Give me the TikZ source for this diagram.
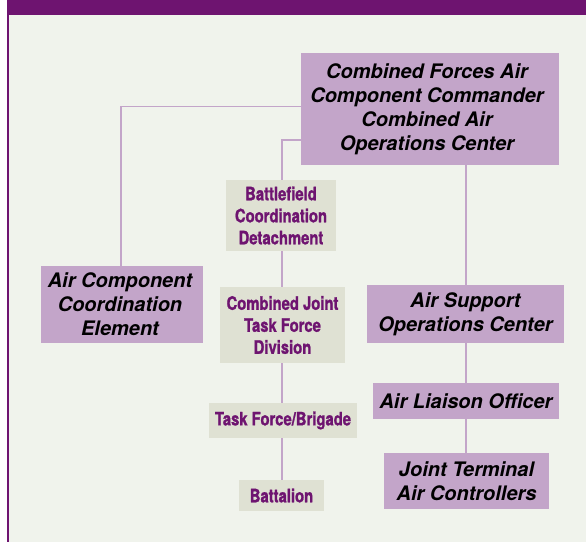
\documentclass[tikz,border=0pt]{standalone}
\usepackage{fontspec}
\setmainfont{TeX Gyre Heros}
\newfontfamily\condfont[FakeStretch=0.8, BoldFeatures={FakeBold=1.2}]{TeX Gyre Heros}
\definecolor{bgc}{HTML}{F0F3EC}
\definecolor{bandc}{HTML}{6E1470}
\definecolor{boxc}{HTML}{C3A5C9}
\definecolor{beigec}{HTML}{DFE1D3}
\definecolor{txtp}{HTML}{6E1470}
\tikzset{
  airbox/.style={fill=boxc, inner sep=0pt, align=center,
    font=\fontsize{20bp}{24bp}\selectfont\bfseries\itshape, text=black},
  airtext/.style={font=\fontsize{20bp}{24bp}\selectfont\bfseries\itshape, align=center, inner sep=0pt},
  armybox/.style={fill=beigec, inner sep=0pt, align=center,
    font=\condfont\fontsize{18.5bp}{22bp}\selectfont\bfseries, text=txtp},
  link/.style={draw=boxc, line width=1.6bp}
}
\begin{document}
\begin{tikzpicture}[x=1bp,y=-1bp]
\useasboundingbox (0,0) rectangle (586,542);
\fill[white] (0,0) rectangle (586,542);
\fill[bgc] (6.7,0) rectangle (586,542);
\fill[bandc] (6.7,0) rectangle (586,15.5);
\fill[bandc] (6.7,0) rectangle (8.7,542);

% air boxes
\node[airbox, minimum width=258bp, minimum height=112bp] (cfacc) at (430,109) {};
\node[airtext] (cfacct) at (427,109)
  {Combined Forces Air\\Component Commander\\Combined Air\\Operations Center};
\node[airbox, minimum width=162bp, minimum height=77bp] (acce) at (122,304.5) {};
\node[airtext] (accet) at (120,304.5)
  {Air Component\\Coordination\\Element};
\node[airbox, minimum width=197bp, minimum height=58bp] (asoc) at (465.5,314) {Air Support\\Operations Center};
\node[airbox, minimum width=186bp, minimum height=36bp] (alo) at (466,401) {Air Liaison Officer};
\node[airbox, minimum width=165bp, minimum height=56bp] (jtac) at (466.5,481) {Joint Terminal\\Air Controllers};

% army boxes
\node[armybox, minimum width=110bp, minimum height=71bp] (bcd) at (281,215.5) {Battlefield\\Coordination\\Detachment};
\node[armybox, minimum width=125bp, minimum height=76bp] (cjtfd) at (282.5,325) {Combined Joint\\Task Force\\Division};
\node[armybox, minimum width=148bp, minimum height=35bp] (tfb) at (283,420.5) {Task Force/Brigade};
\node[armybox, minimum width=85bp, minimum height=31bp] (bn) at (281.5,495.5) {Battalion};

% connectors
\draw[link] (cfacc.west |- 0,106.7) -| (acce.north -| 121,0);
\draw[link] (cfacc.west |- 0,140) -| (bcd.north -| 282,0);
\draw[link] (cfacc.south -| 466,0) -- (asoc.north -| 466,0);
\draw[link] (bcd.south -| 282,0) -- (cjtfd.north -| 282,0);
\draw[link] (cjtfd.south -| 282,0) -- (tfb.north -| 282,0);
\draw[link] (tfb.south -| 282,0) -- (bn.north -| 282,0);
\draw[link] (asoc.south -| 466,0) -- (alo.north -| 466,0);
\draw[link] (alo.south -| 466,0) -- (jtac.north -| 466,0);
\end{tikzpicture}
\end{document}
